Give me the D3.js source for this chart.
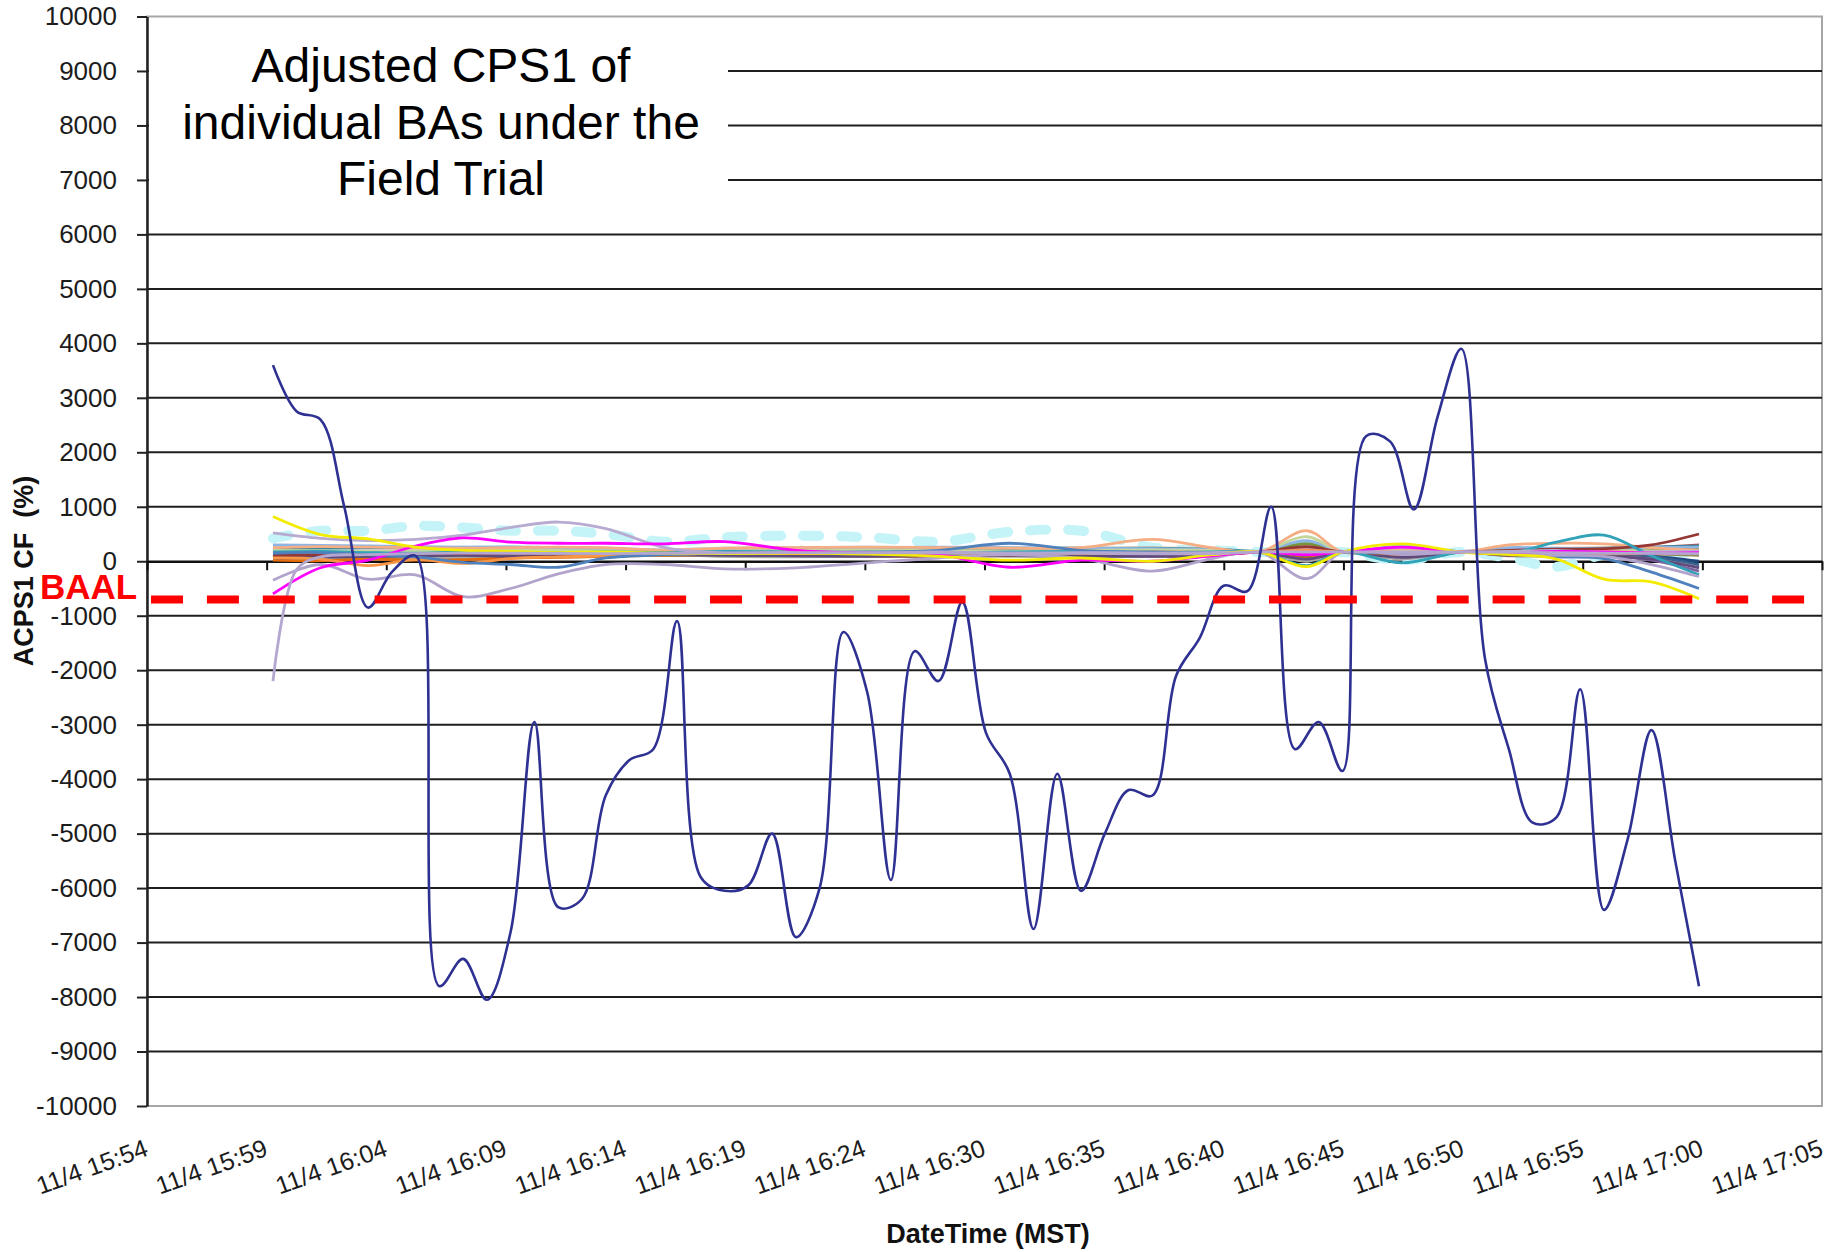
<!DOCTYPE html>
<html>
<head>
<meta charset="utf-8">
<script src="https://cdn.jsdelivr.net/npm/d3@7"></script>
<style>
  body { margin: 0; background: #fff; }
  text { font-family: "Liberation Sans", Arial, sans-serif; }
</style>
</head>
<body>
<div id="chart"></div>
<script>
// ---- data ----
let tickLabels = ["11/4 15:54", "11/4 15:59", "11/4 16:04", "11/4 16:09", "11/4 16:14",
  "11/4 16:19", "11/4 16:24", "11/4 16:30", "11/4 16:35", "11/4 16:40", "11/4 16:45",
  "11/4 16:50", "11/4 16:55", "11/4 17:00", "11/4 17:05"];
let yTicks = [-10000, -9000, -8000, -7000, -6000, -5000, -4000, -3000, -2000, -1000, 0,
  1000, 2000, 3000, 4000, 5000, 6000, 7000, 8000, 9000, 10000];
let baal = -700;

// minutes after 16:00
let minutes = [0, 1, 2, 3, 4, 5, 6, 7, 8, 9, 10, 11, 12, 13, 14, 15, 16, 17, 18, 19, 20,
  21, 22, 23, 24, 25, 26, 27, 28, 29, 30, 31, 32, 33, 34, 35, 36, 37, 38, 39, 40,
  41, 42, 43, 44, 45, 46, 47, 48, 49, 50, 51, 52, 53, 54, 55, 56, 57, 58, 59, 60];
let navyBA = [3600, 2750, 2600, 1000, -850, -200, 100, -7800, -7300, -8050, -6800,
  -2950, -6350, -6200, -4300, -3650, -3450, -1100, -5800, -6050, -5950,
  -5000, -6900, -6000, -1300, -2400, -5850, -1650, -2200, -750, -3150,
  -3900, -6750, -3900, -6050, -5000, -4200, -4300, -2100, -1400, -450,
  -550, 1000, -3450, -2950, -3850, 2300, 2200, 950, 2650, 3900,
  -1800, -3450, -4800, -4700, -2350, -6400, -5100, -3100, -5500, -7800];

// the other BAs, sampled more coarsely
let bandT = [0, 2, 4, 6, 8, 10, 12, 14, 16.5, 19, 22, 25, 28, 31, 34, 37, 39.5, 41.5,
  43.5, 45, 47.5, 50, 52, 54, 56, 58, 60];
let skyBA = [260, 250, 240, 230, 220, 200, 210, 200, 190, 200, 210, 220, 200, 190, 200, 210, 190, 175, 220, 170, 180, 172, 190, 200, 210, 190, 230];
let greenBA = [120, 130, 110, 140, 150, 160, 150, 140, 160, 150, 140, 160, 170, 150, 160, 150, 160, 168, 300, 165, 200, 168, 180, 170, 160, 150, 120];
let purpleBA = [80, 90, 70, 60, 90, 100, 110, 120, 130, 120, 100, 110, 130, 120, 110, 100, 120, 170, 60, 175, 90, 170, 150, 130, 110, 20, -180];
let orangeBA = [60, 40, -80, 30, -40, 50, 80, 100, 120, 150, 140, 150, 130, 160, 150, 170, 160, 172, 200, 170, 150, 175, 160, 150, 170, 160, 150];
let redBA = [200, 210, 230, 220, 200, 190, 200, 210, 180, 200, 220, 210, 200, 190, 210, 220, 200, 180, 270, 175, 210, 180, 200, 220, 230, 250, 300];
let darkBlueBA = [150, 160, 170, 150, 140, 130, 150, 160, 150, 170, 160, 150, 140, 160, 170, 150, 140, 165, 120, 168, 140, 165, 150, 160, 150, 100, 0];
let grayBA = [100, 110, 120, 100, 110, 120, 140, 150, 140, 130, 120, 130, 140, 130, 120, 130, 150, 170, 100, 170, 130, 170, 140, 130, 140, 150, 140];
let paleAquaBA = [280, 270, 260, 250, 260, 270, 250, 240, 210, 240, 250, 260, 250, 240, 250, 240, 230, 180, 350, 180, 260, 178, 240, 230, 220, 210, 200];
let peachBA = [240, 230, 220, 230, 240, 250, 230, 220, 200, 230, 240, 230, 220, 230, 240, 250, 230, 176, 300, 178, 220, 176, 230, 240, 250, 230, 220];
let oliveBA = [30, 50, 60, 70, 80, 90, 100, 110, 110, 100, 90, 100, 110, 100, 90, 100, 110, 165, 20, 165, 60, 165, 120, 110, 120, 130, 110];
let roseBA = [180, 190, 200, 210, 200, 180, 190, 200, 170, 180, 190, 200, 210, 200, 190, 180, 200, 172, 240, 172, 250, 172, 200, 190, 180, 190, 210];
let iceBA = [220, 200, 190, 180, 170, 160, 170, 180, 160, 170, 180, 190, 180, 170, 180, 190, 170, 170, 180, 170, 190, 170, 180, 170, 180, 170, 180];
let silverBA = [40, 60, 80, 70, 60, 70, 80, 90, 120, 90, 80, 90, 100, 90, 80, 90, 100, 168, 0, 170, 40, 168, 100, 90, 100, 60, -100];
let dustyRedBA = [140, 150, 160, 170, 180, 170, 160, 150, 140, 130, 150, 140, 160, 150, 140, 150, 160, 170, 220, 170, 160, 170, 170, 160, 170, 180, 170];
let navyTintBA = [110, 100, 90, 110, 120, 110, 120, 130, 140, 120, 110, 120, 130, 140, 130, 120, 130, 168, 90, 168, 110, 168, 130, 140, 130, 90, -60];
let mossBA = [190, 180, 170, 160, 170, 180, 190, 180, 170, 160, 170, 180, 170, 160, 170, 180, 190, 172, 320, 172, 230, 172, 190, 180, 190, 200, 230];
let rustBA = [20, 10, 40, 20, 30, 60, 70, 90, 110, 120, 110, 100, 90, 110, 120, 110, 100, 168, 60, 168, 90, 168, 110, 120, 130, 140, 150];
let deepTealBA = [230, 240, 250, 260, 250, 240, 230, 220, 190, 210, 230, 240, 230, 220, 230, 240, 220, 178, 160, 176, 240, 176, 220, 230, 240, 260, 280];
let plumBA = [60, 70, 90, 100, 110, 90, 100, 110, 120, 110, 100, 90, 100, 110, 100, 90, 110, 166, 40, 166, 70, 166, 110, 100, 90, 40, -120];
let cornflowerBA = [300, 290, 280, 270, 260, 250, 240, 230, 200, 220, 240, 250, 260, 250, 240, 230, 220, 180, 380, 180, 280, 180, 250, 240, 230, 250, 260];
let cyanBA = [420, 560, 560, 650, 620, 560, 560, 500, 360, 440, 470, 440, 360, 540, 560, 250, 200, 170, 150, 170, 20, 170, 60, -100, 120, 150, 160];
let yellowBA = [820, 490, 410, 260, 200, 180, 160, 170, 150, 140, 150, 130, 90, 20, 60, 0, 120, 170, -100, 170, 320, 170, 120, 40, -330, -380, -690];
let magentaBA = [-600, -120, 20, 280, 430, 350, 330, 330, 320, 360, 200, 150, 120, -110, 20, 0, 100, 170, 120, 170, 260, 170, 150, 180, 170, 150, 160];
let lilacHighBA = [520, 420, 380, 400, 480, 620, 720, 600, 250, 150, 160, 150, 170, 150, 160, 150, 160, 170, 140, 170, 250, 170, 180, 200, 150, 170, 180];
let lilacLowBA = [-350, -60, -330, -250, -650, -500, -230, -60, -60, -140, -120, -30, 60, 120, 50, -180, 50, 170, -320, 170, 120, 170, 140, 110, 90, -60, -280];
let steelBA = [150, 160, 120, 80, -20, -60, -110, 60, 120, 150, 160, 170, 200, 330, 200, 170, 160, 170, 130, 170, 150, 170, 130, 80, 50, -200, -500];
let tealBA = [170, 180, 160, 150, 170, 160, 150, 170, 160, 180, 170, 160, 150, 170, 180, 160, 170, 170, -80, 170, -30, 170, 150, 350, 480, 100, -250];
let salmonBA = [250, 270, 260, 250, 240, 250, 260, 250, 200, 240, 250, 260, 250, 240, 250, 400, 250, 170, 560, 170, 230, 170, 300, 330, 320, 250, 200];
let lightGreenBA = [200, 190, 180, 190, 200, 210, 200, 190, 180, 190, 200, 210, 200, 190, 200, 210, 200, 170, 450, 170, 210, 170, 200, 210, 200, 190, 180];
let maroonBA = [100, 120, 130, 140, 150, 140, 130, 140, 150, 160, 150, 140, 150, 160, 150, 140, 150, 170, 270, 170, 160, 170, 200, 220, 230, 300, 500];
// one BA starts far below and climbs into the band within a minute
let lilacStartT = [0, 1, 2, 4, 8, 14, 22, 31, 39.5, 41.5, 45, 50, 56, 60];
let lilacStartBA = [-2200, -150, 80, 120, 150, 140, 160, 150, 140, 170, 170, 170, 150, 140];

// ---- layout ----
let plotLeft = 147, plotRight = 1822, plotTop = 16.5, plotBottom = 1106;

var svg = d3.select("#chart")
  .append("svg")
    .attr("width", 1841)
    .attr("height", 1252);

svg.append("rect").attr("width", 1841).attr("height", 1252).attr("fill", "#fff");

var x = d3.scaleLinear()
  .domain([-5.30, 65.175])
  .range([plotLeft, plotRight]);
var y = d3.scaleLinear()
  .domain([-10000, 10000])
  .range([plotBottom, plotTop]);

let xDom = x.domain();
let xTickVals = d3.range(15).map(i => xDom[0] + i * (xDom[1] - xDom[0]) / 14);

// plot border
svg.append("rect")
  .attr("x", plotLeft).attr("y", plotTop)
  .attr("width", plotRight - plotLeft).attr("height", plotBottom - plotTop)
  .attr("fill", "none").attr("stroke", "#a6a6a6").attr("stroke-width", 2);

// gridlines
svg.append("g")
  .selectAll("line")
  .data(yTicks.filter(v => Math.abs(v) < 10000 && v !== 0))
  .enter()
  .append("line")
    .attr("x1", plotLeft).attr("x2", plotRight)
    .attr("y1", d => y(d)).attr("y2", d => y(d))
    .attr("stroke", "#1e1e1e").attr("stroke-width", 2);

// white text box over the top-left gridlines
svg.append("rect")
  .attr("x", 149).attr("y", 19).attr("width", 579).attr("height", 198)
  .attr("fill", "#fff");
let boxLines = ["Adjusted CPS1 of", "individual BAs under the", "Field Trial"];
svg.append("g")
  .selectAll("text")
  .data(boxLines)
  .enter()
  .append("text")
    .attr("x", 441)
    .attr("y", (d, i) => 82 + i * 56.5)
    .attr("text-anchor", "middle")
    .attr("font-size", 48)
    .attr("fill", "#000")
    .text(d => d);

// Y axis
svg.append("g")
  .attr("transform", "translate(" + plotLeft + ",0)")
  .call(d3.axisLeft(y).tickValues(yTicks).tickSize(10).tickSizeOuter(0).tickPadding(20)
    .tickFormat(d => String(d)))
  .call(g => {
    g.attr("font-family", "Liberation Sans, Arial, sans-serif").attr("font-size", 26);
    g.select(".domain").attr("stroke", "#222").attr("stroke-width", 2.5);
    g.selectAll(".tick line").attr("stroke", "#222").attr("stroke-width", 2);
    g.selectAll(".tick text").attr("fill", "#1c1c1c");
  });

// X axis on the zero line (ticks only)
svg.append("g")
  .attr("transform", "translate(0," + y(0) + ")")
  .call(d3.axisBottom(x).tickValues(xTickVals).tickSize(9).tickSizeOuter(0).tickFormat(""))
  .call(g => {
    g.select(".domain").attr("stroke", "#111").attr("stroke-width", 2.5);
    g.selectAll(".tick line").attr("stroke", "#111").attr("stroke-width", 2);
  });

// X tick labels under the plot, slanted
svg.append("g")
  .attr("transform", "translate(0," + plotBottom + ")")
  .call(d3.axisBottom(x).tickValues(xTickVals).tickSize(0).tickFormat((d, i) => tickLabels[i]))
  .call(g => {
    g.attr("font-family", "Liberation Sans, Arial, sans-serif").attr("font-size", 25);
    g.select(".domain").remove();
    g.selectAll(".tick text")
      .attr("fill", "#1c1c1c")
      .attr("x", 0).attr("y", 0).attr("dy", 0)
      .attr("text-anchor", "end")
      .attr("transform", "translate(2,49) rotate(-20)");
  });

// axis titles
svg.append("text")
  .attr("x", 988).attr("y", 1243)
  .attr("text-anchor", "middle")
  .attr("font-size", 27).attr("font-weight", "bold")
  .attr("fill", "#111")
  .text("DateTime (MST)");
svg.append("text")
  .attr("transform", "translate(33,571) rotate(-90)")
  .attr("text-anchor", "middle")
  .attr("font-size", 27).attr("font-weight", "bold")
  .attr("fill", "#111")
  .text("ACPS1 CF\u00a0 (%)");

// ---- lines ----
let line = d3.line()
  .x(d => x(d[0]))
  .y(d => y(d[1]))
  .curve(d3.curveCatmullRom.alpha(0.5));

let bandSeries = [
  {v: cyanBA, color: "#c4f4f8", w: 10, dash: "16 22"},
  {v: skyBA, color: "#00b0f0"},
  {v: greenBA, color: "#9bbb59"},
  {v: purpleBA, color: "#8064a2"},
  {v: redBA, color: "#c0504d"},
  {v: darkBlueBA, color: "#1f497d"},
  {v: grayBA, color: "#7f7f7f"},
  {v: paleAquaBA, color: "#93cddd"},
  {v: peachBA, color: "#fcd5b5"},
  {v: oliveBA, color: "#948a54"},
  {v: roseBA, color: "#e6b9b8"},
  {v: iceBA, color: "#b7dee8"},
  {v: silverBA, color: "#a6a6a6"},
  {v: dustyRedBA, color: "#d99694"},
  {v: navyTintBA, color: "#376092"},
  {v: mossBA, color: "#77933c"},
  {v: rustBA, color: "#e46c0a"},
  {v: deepTealBA, color: "#31859c"},
  {v: plumBA, color: "#604a7b"},
  {v: cornflowerBA, color: "#8eb4e3"},
  {v: lightGreenBA, color: "#c3d69b"},
  {v: salmonBA, color: "#f5ad84"},
  {v: maroonBA, color: "#953735"},
  {v: orangeBA, color: "#f79646"},
  {v: tealBA, color: "#31a2b8"},
  {v: steelBA, color: "#4f81bd"},
  {v: lilacLowBA, color: "#b1a3cb"},
  {v: lilacHighBA, color: "#b8abd2"},
  {v: magentaBA, color: "#ff00ff"},
  {v: yellowBA, color: "#f4ec00"},
  {t: lilacStartT, v: lilacStartBA, color: "#b4a7cf"}
];

let gLines = svg.append("g");
bandSeries.forEach(s => {
  let tt = s.t || bandT;
  gLines.append("path")
    .datum(tt.map((t, i) => [t, s.v[i]]))
    .attr("fill", "none")
    .attr("stroke", s.color)
    .attr("stroke-width", s.w || 2.8)
    .attr("stroke-linecap", s.dash ? "round" : "butt")
    .attr("stroke-dasharray", s.dash || null)
    .attr("d", line);
});

gLines.append("path")
  .datum(minutes.map((t, i) => [t, navyBA[i]]))
  .attr("fill", "none")
  .attr("stroke", "#2e3192")
  .attr("stroke-width", 2.6)
  .attr("d", line);

// BAAL limit
svg.append("line")
  .attr("x1", plotLeft + 4).attr("x2", plotRight - 16)
  .attr("y1", y(baal)).attr("y2", y(baal))
  .attr("stroke", "#ff0000").attr("stroke-width", 8)
  .attr("stroke-dasharray", "32 23.9");
svg.append("text")
  .attr("x", 40).attr("y", y(baal))
  .attr("font-size", 35).attr("font-weight", "bold")
  .attr("fill", "#ff0000")
  .text("BAAL");
</script>
</body>
</html>
